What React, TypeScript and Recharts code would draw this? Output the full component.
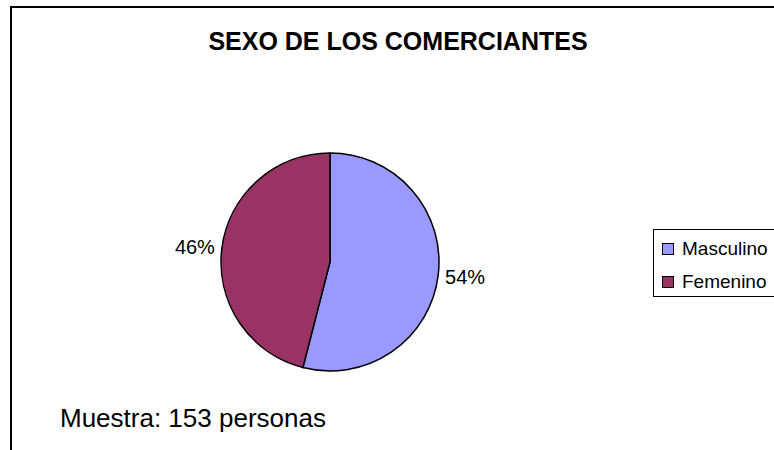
import { PieChart, Pie, Cell, Legend } from 'recharts';

// Chart data
const categories = ['Masculino', 'Femenino'];
const shares = [54, 46];
const sliceColors = ['#9999FF', '#993366'];

const TITLE = 'SEXO DE LOS COMERCIANTES';
const FOOTNOTE = 'Muestra: 153 personas';

const FONT = '"Liberation Sans", Arial, sans-serif';
const RADIAN = Math.PI / 180;

const pieData = categories.map((name, i) => ({ name, value: shares[i] }));

// Percentage label just outside the slice edge
const renderLabel = (props: any) => {
  const { cx, cy, midAngle, outerRadius, percent } = props;
  const r = outerRadius + 7;
  const cos = Math.cos(-midAngle * RADIAN);
  const x = cx + r * cos;
  const y = cy + r * Math.sin(-midAngle * RADIAN);
  return (
    <text
      x={x}
      y={y}
      fill="#000"
      fontFamily={FONT}
      fontSize={20}
      textAnchor={cos >= 0 ? 'start' : 'end'}
      dominantBaseline="central"
    >
      {`${Math.round(percent * 100)}%`}
    </text>
  );
};

// legend frame runs off the right edge in the reference, so no right border
const LegendBox = () => (
  <div
    style={{
      borderTop: '1px solid #000',
      borderLeft: '1px solid #000',
      borderBottom: '1px solid #000',
      background: '#fff',
      width: 160,
      height: 68,
      boxSizing: 'border-box',
      paddingLeft: 8,
      paddingTop: 6,
      fontFamily: FONT,
      fontSize: 19,
      color: '#000',
    }}
  >
    {categories.map((name, i) => (
      <div key={name} style={{ display: 'flex', alignItems: 'center', height: 26, marginBottom: 7 }}>
        <span
          style={{
            display: 'inline-block',
            width: 10,
            height: 10,
            background: sliceColors[i],
            border: '1px solid #000',
            marginRight: 8,
          }}
        />
        {name}
      </div>
    ))}
  </div>
);

export default function App() {
  return (
    <div
      style={{
        position: 'absolute',
        left: 0,
        top: 0,
        width: 774,
        height: 450,
        background: '#fff',
        overflow: 'hidden',
      }}
    >
      {/* chart area frame, cut off at the right and bottom */}
      <div
        style={{
          position: 'absolute',
          left: 10,
          top: 6,
          width: 820,
          height: 520,
          border: '2px solid #000',
        }}
      />
      <div
        style={{
          position: 'absolute',
          left: 0,
          top: 27,
          width: 796,
          textAlign: 'center',
          fontFamily: FONT,
          fontWeight: 'bold',
          fontSize: 25,
          color: '#000',
        }}
      >
        {TITLE}
      </div>
      <div
        style={{
          position: 'absolute',
          left: 60,
          top: 403,
          fontFamily: FONT,
          fontSize: 26,
          color: '#000',
        }}
      >
        {FOOTNOTE}
      </div>
      <div style={{ position: 'absolute', left: 0, top: 0 }}>
        <PieChart width={774} height={450} margin={{ top: 0, right: 0, bottom: 0, left: 0 }}>
          <Pie
            data={pieData}
            dataKey="value"
            nameKey="name"
            cx={330}
            cy={262}
            outerRadius={109}
            startAngle={90}
            endAngle={-270}
            stroke="#000"
            strokeWidth={1.5}
            label={renderLabel}
            labelLine={false}
            isAnimationActive={false}
          >
            {pieData.map((d, i) => (
              <Cell key={d.name} fill={sliceColors[i]} />
            ))}
          </Pie>
          <Legend
            layout="vertical"
            verticalAlign="middle"
            align="right"
            content={<LegendBox />}
            wrapperStyle={{ left: 653, top: 229, width: 160 }}
          />
        </PieChart>
      </div>
    </div>
  );
}
